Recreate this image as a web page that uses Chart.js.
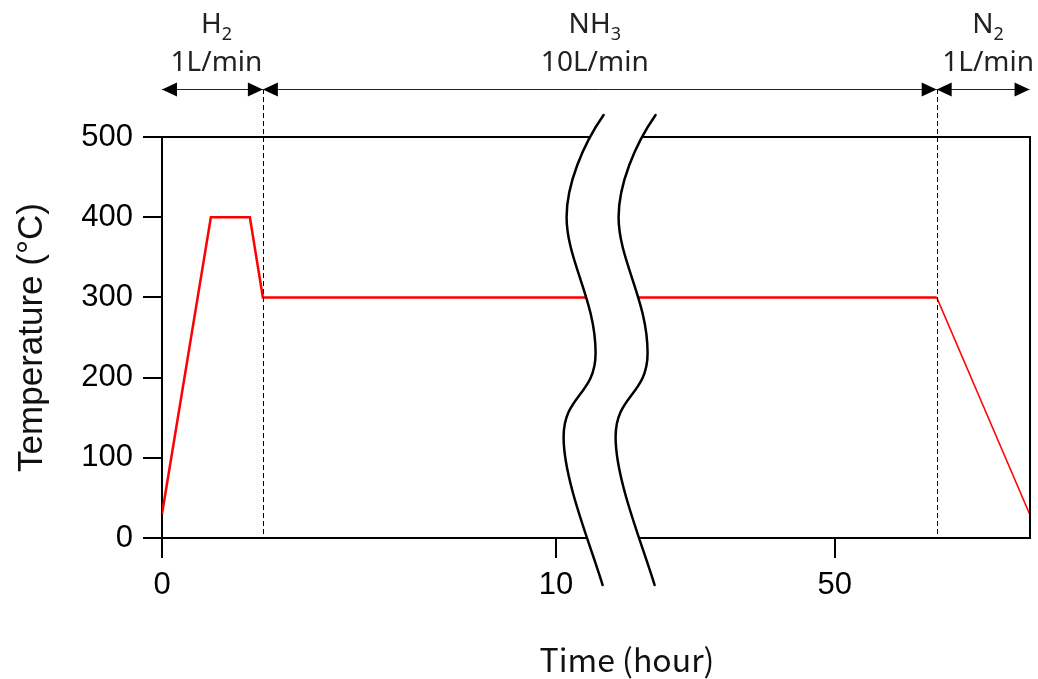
<!DOCTYPE html>
<html>
<head>
<meta charset="utf-8">
<script src="https://cdn.jsdelivr.net/npm/chart.js@4"></script>
<style>
  body { margin: 0; background: #fff; }
  #wrap { width: 1038px; height: 679px; position: relative; }
</style>
</head>
<body>
<div id="wrap"><canvas id="myChart"></canvas></div>
<script>
// data
const timeHours = [0, 1.24, 2.23, 2.56, 60, 69.1];
const temperatures = [30, 400, 400, 300, 300, 30];
const tickHours = [0, 10, 50];
const tickLabels = ["0", "10", "50"];
const gasNames = ["H", "NH", "N"];
const gasSubs = ["2", "3", "2"];
const gasFlows = ["1L/min", "10L/min", "1L/min"];
const phaseStart = [0, 2.56, 60];
const phaseEnd = [2.56, 60, 69.1];

// broken time axis: real hours up to the break, compressed after it
const breakFromHour = 10.7;
const breakToHour = 32;
const breakToAxis = 12.41;
const afterBreakScale = 0.259;
const axisMax = 22.03;

function toAxis(h) {
  if (h <= breakFromHour) return h;
  return breakToAxis + (h - breakToHour) * afterBreakScale;
}

const points = timeHours.map((h, i) => ({ x: toAxis(h), y: temperatures[i] }));

// wavy break line: bezier pieces [c1x,c1y,c2x,c2y,x,y], x relative to the break pixel
const waveStart = [20, 115];
const wave = [
  [-1, 145, -17, 185, -17, 217],
  [-17, 260, 12, 300, 12, 353],
  [12, 395, -20, 395, -20, 437],
  [-20, 480, 7, 545, 19, 585]
];

function wavePath(ctx, x0, reverse) {
  if (!reverse) {
    ctx.moveTo(x0 + waveStart[0], waveStart[1]);
    wave.forEach(w => ctx.bezierCurveTo(x0 + w[0], w[1], x0 + w[2], w[3], x0 + w[4], w[5]));
  } else {
    for (let i = wave.length - 1; i >= 0; i--) {
      const w = wave[i];
      const end = i > 0 ? wave[i - 1].slice(4) : waveStart;
      ctx.bezierCurveTo(x0 + w[2], w[3], x0 + w[0], w[1], x0 + end[0], end[1]);
    }
  }
}

function arrowHead(ctx, x, y, dir) {
  ctx.beginPath();
  ctx.moveTo(x, y);
  ctx.lineTo(x - dir * 15, y - 7);
  ctx.lineTo(x - dir * 15, y + 7);
  ctx.closePath();
  ctx.fill();
}

const labelShift = [4, -5, 5];

const decor = {
  id: "decor",
  afterDraw(chart) {
    const ctx = chart.ctx;
    const a = chart.chartArea;
    const xs = chart.scales.x;
    ctx.save();

    // box top and right
    ctx.strokeStyle = "#000";
    ctx.lineWidth = 2;
    ctx.beginPath();
    ctx.moveTo(a.left - 19, a.top);
    ctx.lineTo(a.right, a.top);
    ctx.lineTo(a.right, a.bottom);
    ctx.stroke();

    // dashed phase boundaries
    const arrowY = 89;
    ctx.lineWidth = 1;
    ctx.setLineDash([5, 3]);
    [phaseEnd[0], phaseEnd[1]].forEach(h => {
      const x = Math.round(xs.getPixelForValue(toAxis(h))) + 0.5;
      ctx.beginPath();
      ctx.moveTo(x, arrowY);
      ctx.lineTo(x, a.bottom);
      ctx.stroke();
    });
    ctx.setLineDash([]);

    // arrows and gas labels
    ctx.fillStyle = "#000";
    ctx.strokeStyle = "#222";
    for (let i = 0; i < gasNames.length; i++) {
      const x1 = xs.getPixelForValue(toAxis(phaseStart[i]));
      const x2 = xs.getPixelForValue(toAxis(phaseEnd[i]));
      ctx.beginPath();
      ctx.moveTo(x1, arrowY + 0.5);
      ctx.lineTo(x2, arrowY + 0.5);
      ctx.stroke();
      ctx.fillStyle = "#000";
      arrowHead(ctx, x1, arrowY + 0.5, -1);
      arrowHead(ctx, x2, arrowY + 0.5, 1);

      const cx = (x1 + x2) / 2 + labelShift[i];
      ctx.fillStyle = "#222";
      ctx.textBaseline = "alphabetic";
      ctx.font = "28px 'Noto Sans'";
      const wMain = ctx.measureText(gasNames[i]).width;
      ctx.font = "18px 'Noto Sans'";
      const wSub = ctx.measureText(gasSubs[i]).width;
      const sx = cx - (wMain + wSub) / 2;
      ctx.font = "28px 'Noto Sans'";
      ctx.textAlign = "left";
      ctx.fillText(gasNames[i], sx, 33);
      ctx.font = "18px 'Noto Sans'";
      ctx.fillText(gasSubs[i], sx + wMain, 40);
      ctx.font = "28px 'Noto Sans'";
      ctx.textAlign = "center";
      ctx.fillText(gasFlows[i], cx, 71);
    }

    // axis break
    const xb = xs.getPixelForValue(breakFromHour);
    const gap = 52;
    const last = wave[wave.length - 1];
    ctx.beginPath();
    wavePath(ctx, xb, false);
    ctx.lineTo(xb + gap + last[4], last[5]);
    wavePath(ctx, xb + gap, true);
    ctx.closePath();
    ctx.fillStyle = "#fff";
    ctx.fill();

    ctx.strokeStyle = "#000";
    ctx.lineWidth = 2.5;
    ctx.lineCap = "round";
    [xb, xb + gap].forEach(x0 => {
      ctx.beginPath();
      wavePath(ctx, x0, false);
      ctx.stroke();
    });

    // x axis title
    ctx.fillStyle = "#111";
    ctx.font = "32px 'Noto Sans CJK JP'";
    ctx.textAlign = "center";
    ctx.textBaseline = "alphabetic";
    ctx.fillText("Time (hour)", 627, 672);
    ctx.restore();
  }
};

const config = {
  type: "line",
  data: {
    datasets: [{
      data: points,
      borderColor: "#ff0000",
      borderWidth: 2.5,
      pointRadius: 0,
      tension: 0,
      fill: false,
      segment: {
        borderWidth: c => c.p0DataIndex === points.length - 2 ? 1.5 : 2.5
      }
    }]
  },
  options: {
    responsive: true,
    maintainAspectRatio: false,
    animation: false,
    layout: { padding: { top: 137, right: 8, left: 0, bottom: 0 } },
    plugins: { legend: { display: false }, tooltip: { enabled: false } },
    scales: {
      x: {
        type: "linear",
        min: 0,
        max: axisMax,
        afterFit: s => { s.height = 141; },
        afterBuildTicks: s => { s.ticks = tickHours.map(h => ({ value: toAxis(h) })); },
        ticks: {
          callback: (v, i) => tickLabels[i],
          font: { family: "'Liberation Sans', Arial", size: 31 },
          color: "#000",
          padding: 9,
          maxRotation: 0
        },
        grid: { drawOnChartArea: false, tickLength: 20, color: "#000", lineWidth: 2 },
        border: { color: "#000", width: 2 },
        title: { display: false }
      },
      y: {
        min: 0,
        max: 500,
        afterFit: s => { s.width = 162; },
        ticks: {
          stepSize: 100,
          font: { family: "'Liberation Sans', Arial", size: 31 },
          color: "#000",
          padding: 10
        },
        grid: { drawOnChartArea: false, tickLength: 19, color: "#000", lineWidth: 2 },
        border: { color: "#000", width: 2 },
        title: {
          display: true,
          text: "Temperature (°C)",
          font: { family: "'Liberation Sans', Arial", size: 35 },
          color: "#111",
          padding: { top: 11, bottom: 0 }
        }
      }
    }
  },
  plugins: [decor]
};

const myChart = document.getElementById("myChart");
myChart.chart = new Chart(myChart, config);
</script>
</body>
</html>
